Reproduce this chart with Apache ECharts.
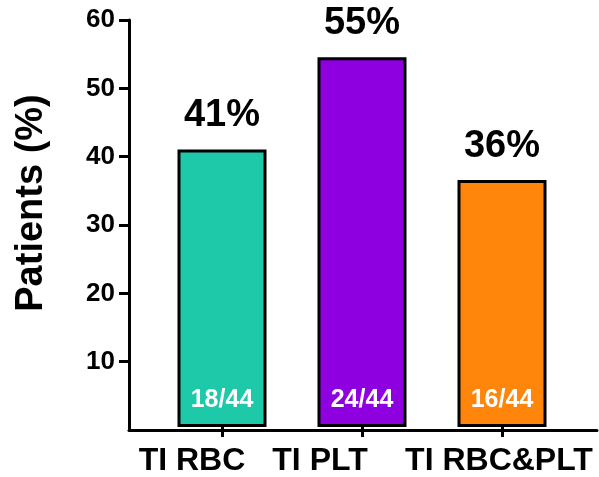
<!DOCTYPE html>
<html>
<head>
<meta charset="utf-8">
<title>Transfusion independence</title>
<script src="https://cdn.jsdelivr.net/npm/echarts@6/dist/echarts.min.js"></script>
<style>
  html, body { margin: 0; padding: 0; background: #ffffff; }
  #chart { width: 599px; height: 477px; }
</style>
</head>
<body>
<div id="chart"></div>
<script>
// Transfusion-independence groups
const categories = ['TI RBC', 'TI PLT', 'TI RBC&PLT'];
// Patients reaching each endpoint, out of the cohort
const responders = [18, 24, 16];
const cohortSizes = [44, 44, 44];
// Share of patients (%) for each group
const percentValues = [40.9, 54.5, 36.4];
// Y-axis tick values
const yTicks = [10, 20, 30, 40, 50, 60];

const barColors = ['#1ec9aa', '#8f00e0', '#ff860a'];
// Right padding nudges each category label leftwards from its tick
const labelRightPad = [60, 84, 6];
const FONT = 'Arial, "Liberation Sans", Helvetica, sans-serif';

const chart = echarts.init(document.getElementById('chart'), null, { renderer: 'canvas' });

const sharedTop = 20;
const sharedBottom = 47;

chart.setOption({
  animation: false,
  backgroundColor: '#ffffff',
  grid: [
    // frame grid: carries the y axis and the full-width baseline
    { left: 129, right: 2, top: sharedTop, bottom: sharedBottom },
    // bar grid: category slots centred under each bar
    { left: 152, width: 420, top: sharedTop, bottom: sharedBottom }
  ],
  xAxis: [
    {
      gridIndex: 0,
      type: 'value',
      min: 0,
      max: 1,
      axisLine: { show: true, lineStyle: { color: '#000', width: 3 } },
      axisTick: { show: false },
      axisLabel: { show: false },
      splitLine: { show: false }
    },
    {
      gridIndex: 1,
      type: 'category',
      data: categories.map((c, i) => ({
        value: c,
        textStyle: { padding: [0, labelRightPad[i], 0, 0] }
      })),
      boundaryGap: true,
      axisLine: { show: false },
      axisTick: { show: true, alignWithLabel: true, length: 10, lineStyle: { color: '#000', width: 3 } },
      axisLabel: {
        color: '#000',
        fontFamily: FONT,
        fontWeight: 'bold',
        fontSize: 32,
        margin: 18,
        interval: 0,
        hideOverlap: false
      },
      splitLine: { show: false }
    }
  ],
  yAxis: [
    {
      gridIndex: 0,
      type: 'value',
      min: 0,
      max: 60,
      interval: 10,
      name: 'Patients (%)',
      nameLocation: 'middle',
      nameRotate: 90,
      nameGap: 78,
      nameTextStyle: {
        color: '#000',
        fontFamily: FONT,
        fontWeight: 'bold',
        fontSize: 38,
        padding: [0, 0, 0, 44]
      },
      axisLine: { show: true, lineStyle: { color: '#000', width: 3 } },
      axisTick: {
        show: true,
        length: 10,
        customValues: yTicks,
        lineStyle: { color: '#000', width: 3 }
      },
      axisLabel: {
        color: '#000',
        fontFamily: FONT,
        fontWeight: 'bold',
        fontSize: 26,
        margin: 14,
        customValues: yTicks
      },
      splitLine: { show: false }
    },
    {
      gridIndex: 1,
      type: 'value',
      min: 0,
      max: 60,
      interval: 10,
      show: false
    }
  ],
  series: [
    {
      name: 'Patients',
      type: 'bar',
      xAxisIndex: 1,
      yAxisIndex: 1,
      barWidth: 89,
      data: percentValues.map((v, i) => ({
        value: v,
        itemStyle: { color: barColors[i] }
      })),
      itemStyle: { borderColor: '#000', borderWidth: 3 },
      label: {
        show: true,
        position: 'top',
        distance: 15,
        color: '#000',
        fontFamily: FONT,
        fontWeight: 'bold',
        fontSize: 38,
        formatter: p => Math.round(p.value) + '%'
      },
      z: 2
    },
    {
      name: 'Counts',
      type: 'bar',
      xAxisIndex: 1,
      yAxisIndex: 1,
      barWidth: 89,
      barGap: '-100%',
      silent: true,
      data: percentValues,
      itemStyle: { color: 'rgba(0,0,0,0)', borderWidth: 0 },
      label: {
        show: true,
        position: 'insideBottom',
        distance: 14,
        color: '#fff',
        fontFamily: FONT,
        fontWeight: 'bold',
        fontSize: 25,
        formatter: p => responders[p.dataIndex] + '/' + cohortSizes[p.dataIndex]
      },
      z: 3
    }
  ]
});
</script>
</body>
</html>
